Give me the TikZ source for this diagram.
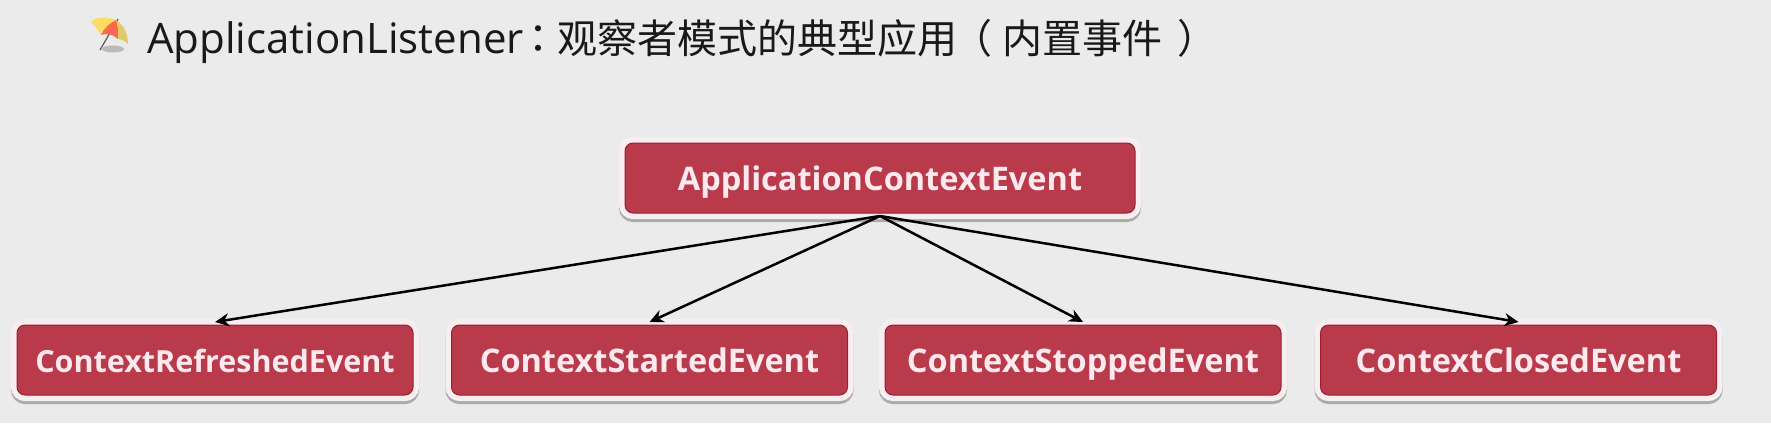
\documentclass[tikz,border=0pt]{standalone}
\usepackage{fontspec}
\setmainfont{Open Sans}
\newfontfamily\cjk{Noto Sans CJK SC}
\newfontfamily\cjkp{Noto Sans CJK TC}
\definecolor{bgc}{HTML}{EBEBEB}
\definecolor{boxc}{HTML}{B93A4A}
\definecolor{rimc}{HTML}{F8EEF0}
\definecolor{edgec}{HTML}{9A1F33}
\definecolor{shadc}{HTML}{ABABAB}
\definecolor{txtc}{HTML}{FDE9EE}
\usetikzlibrary{arrows.meta}
\tikzset{
  evbox/.style={rectangle,rounded corners=8pt,fill=boxc,draw=edgec,line width=1pt,
    minimum width=396pt,minimum height=70pt,inner sep=0pt,outer sep=3pt,
    text height=31pt,text depth=6pt,
    text=txtc,font=\fontsize{32.5}{33}\selectfont\bfseries,
    preaction={draw=shadc,line width=12pt,transform canvas={yshift=-3pt}},
    preaction={draw=rimc,line width=12pt}},
  link/.style={draw=black,line width=2.5pt,-{Stealth[length=14pt,width=13pt]}},
}
\begin{document}
\begin{tikzpicture}[x=1pt,y=-1pt]
\path[use as bounding box,fill=bgc] (0,0) rectangle (1771,423);
% umbrella
\fill[gray!70,opacity=.7] (113,49) ellipse (11 and 3.5);
\draw[black!65,line width=1.2pt] (118,19) -- (100,50);
\fill[fill=yellow!60!orange!60!white] (116,20) .. controls (105,16) and (95,17) .. (91,22) .. controls (95,26) and (98,30) .. (101,35) .. controls (104,28) and (110,23) .. (116,20) -- cycle;
\fill[fill=red!70!orange!70!white] (116,20) .. controls (110,23) and (104,28) .. (101,35) .. controls (106,33) and (113,34) .. (118,39) .. controls (119,32) and (118,26) .. (116,20) -- cycle;
\fill[fill=brown!60!yellow!70!white] (116,20) .. controls (124,25) and (128,34) .. (128,44) .. controls (125,41) and (121,39) .. (118,39) .. controls (119,32) and (118,26) .. (116,20) -- cycle;
% title
\node[anchor=base west,inner sep=0pt,text=black!90,font=\fontsize{42}{42}\selectfont] (title) at (147,53)
  {ApplicationListener{\fontsize{40}{40}\selectfont\kern-5.6pt\cjkp ：\kern-0.8pt\cjk 观察者模式的典型应用\kern-5pt\cjkp （\kern10pt\cjk 内置事件\kern15pt\cjkp ）}};
% boxes
\node[evbox,minimum width=510pt] (root) at (880,178) {ApplicationContextEvent};
\node[evbox,font=\fontsize{30.5}{31}\selectfont\bfseries] (refreshed) at (215,360) {ContextRefreshedEvent};
\node[evbox] (started) at (649.5,360) {ContextStartedEvent};
\node[evbox] (stopped) at (1083,360) {ContextStoppedEvent};
\node[evbox] (closed) at (1518.5,360) {ContextClosedEvent};
% connectors
\draw[link] (root.south) -- (refreshed.north);
\draw[link] (root.south) -- (started.north);
\draw[link] (root.south) -- (stopped.north);
\draw[link] (root.south) -- (closed.north);
\end{tikzpicture}
\end{document}
